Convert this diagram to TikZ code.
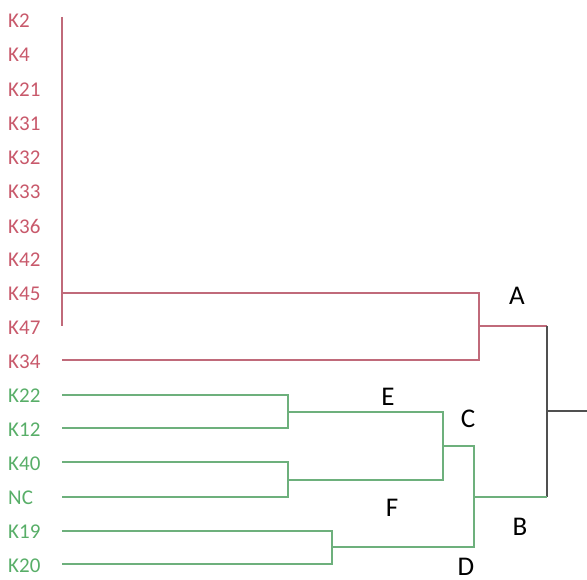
\documentclass[tikz,border=0pt]{standalone}
\usepackage{fontspec}
\setmainfont{Carlito}
\definecolor{clred}{HTML}{C06A7A}
\definecolor{cltred}{HTML}{C8596B}
\definecolor{clgreen}{HTML}{6DB07C}
\definecolor{cltgreen}{HTML}{58AE68}
\definecolor{cldark}{HTML}{505050}
\begin{document}
\begin{tikzpicture}[x=1pt,y=-1pt,
  leafr/.style={anchor=west,inner sep=0pt,text=cltred,font=\fontsize{21}{21}\selectfont},
  leafg/.style={anchor=west,inner sep=0pt,text=cltgreen,font=\fontsize{21}{21}\selectfont},
  clus/.style={inner sep=0pt,text=black,font=\fontsize{27}{27}\selectfont},
  rline/.style={draw=clred,line width=1.7pt},
  gline/.style={draw=clgreen,line width=1.7pt},
  dline/.style={draw=cldark,line width=1.7pt}]
\useasboundingbox (0,0) rectangle (587,580);
% leaf labels
\node[leafr] (k2) at (8,21) {K2};
\node[leafr] (k4) at (8,55) {K4};
\node[leafr] (k21) at (8,90) {K21};
\node[leafr] (k31) at (8,124) {K31};
\node[leafr] (k32) at (8,158) {K32};
\node[leafr] (k33) at (8,192) {K33};
\node[leafr] (k36) at (8,226) {K36};
\node[leafr] (k42) at (8,260) {K42};
\node[leafr] (k45) at (8,294) {K45};
\node[leafr] (k47) at (8,328) {K47};
\node[leafr] (k34) at (8,362) {K34};
\node[leafg] (k22) at (8,396) {K22};
\node[leafg] (k12) at (8,430) {K12};
\node[leafg] (k40) at (8,464) {K40};
\node[leafg] (nc) at (8,498) {NC};
\node[leafg] (k19) at (8,532) {K19};
\node[leafg] (k20) at (8,566) {K20};
% coordinates
\coordinate (rtop) at (62,17);
\coordinate (rbot) at (62,326);
\coordinate (r45) at (62,293);
\coordinate (r34) at (62,360);
\coordinate (a1) at (479,293);
\coordinate (a2) at (479,360);
\coordinate (am) at (479,326);
\coordinate (ar) at (547,326);
\coordinate (br) at (547,497);
\coordinate (root) at (547,411);
\coordinate (rootend) at (587,411);
\coordinate (g22) at (62,395);
\coordinate (g12) at (62,428);
\coordinate (g40) at (62,462);
\coordinate (gnc) at (62,497);
\coordinate (g19) at (62,531);
\coordinate (g20) at (62,564);
\coordinate (e1) at (288,395);
\coordinate (e2) at (288,428);
\coordinate (em) at (288,412);
\coordinate (f1) at (288,462);
\coordinate (f2) at (288,497);
\coordinate (fm) at (288,480);
\coordinate (c1) at (443,412);
\coordinate (c2) at (443,480);
\coordinate (cm) at (443,446);
\coordinate (d1) at (332,531);
\coordinate (d2) at (332,564);
\coordinate (dm) at (332,547);
\coordinate (b1) at (474,446);
\coordinate (b2) at (474,547);
\coordinate (bm) at (474,497);
% red cluster
\draw[rline] (rtop) -- (rbot);
\draw[rline] (r45) -- (a1) -- (a2) -- (r34);
\draw[rline] (am) -- (ar);
% dark root
\draw[dline] (ar) -- (br);
\draw[dline] (root) -- (rootend);
% green cluster
\draw[gline] (g22) -- (e1) -- (e2) -- (g12);
\draw[gline] (g40) -- (f1) -- (f2) -- (gnc);
\draw[gline] (em) -- (c1) -- (c2) -- (fm);
\draw[gline] (g19) -- (d1) -- (d2) -- (g20);
\draw[gline] (cm) -- (b1) -- (b2) -- (dm);
\draw[gline] (bm) -- (br);
% cluster letters
\node[clus] (la) at (517,296) {A};
\node[clus] (le) at (388,397) {E};
\node[clus] (lc) at (468,419) {C};
\node[clus] (lf) at (392,508) {F};
\node[clus] (lb) at (520,527) {B};
\node[clus] (ld) at (466,567) {D};
\end{tikzpicture}
\end{document}
